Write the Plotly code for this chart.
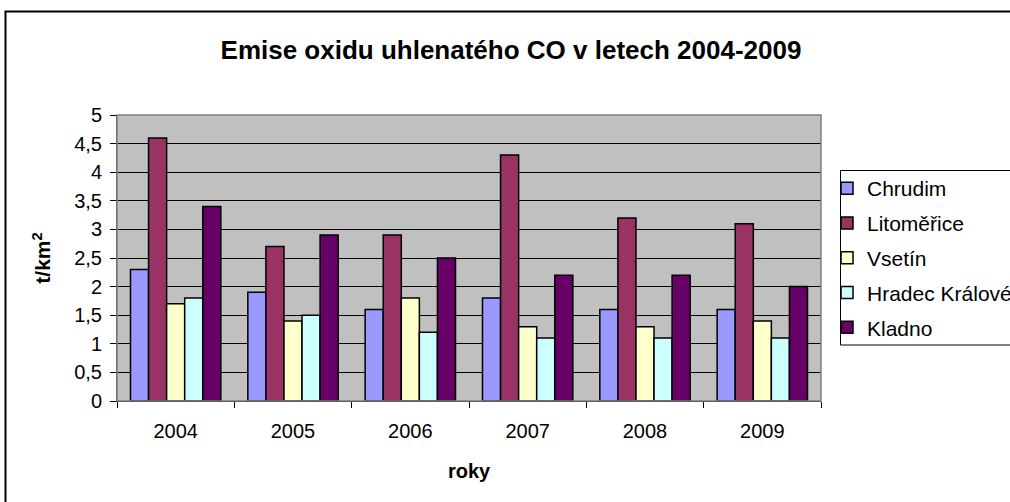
import plotly.graph_objects as go

years = ["2004", "2005", "2006", "2007", "2008", "2009"]
chrudim = [2.3, 1.9, 1.6, 1.8, 1.6, 1.6]
litomerice = [4.6, 2.7, 2.9, 4.3, 3.2, 3.1]
vsetin = [1.7, 1.4, 1.8, 1.3, 1.3, 1.4]
hradec = [1.8, 1.5, 1.2, 1.1, 1.1, 1.1]
kladno = [3.4, 2.9, 2.5, 2.2, 2.2, 2.0]

series = [
    ("Chrudim", chrudim, "#9999FF"),
    ("Litoměřice", litomerice, "#993366"),
    ("Vsetín", vsetin, "#FFFFCC"),
    ("Hradec Králové", hradec, "#CCFFFF"),
    ("Kladno", kladno, "#660066"),
]

FONT = "Liberation Sans, Arial, sans-serif"

fig = go.Figure()
for i, (name, vals, col) in enumerate(series):
    fig.add_trace(go.Bar(
        x=years, y=vals, name=name, legendgroup=f"g{i}",
        marker=dict(color=col, line=dict(color="black", width=1.5)),
    ))

W, H = 1010, 502
L, R, T, B = 117, 189, 115, 101
pw = W - L - R
ph = H - T - B

def px_x(x):
    return (x - L) / pw

def px_y(y):
    return (H - B - y) / ph

fig.update_layout(
    width=W, height=H,
    margin=dict(l=L, r=R, t=T, b=B, autoexpand=False),
    paper_bgcolor="white",
    plot_bgcolor="#C0C0C0",
    barmode="group",
    bargap=0.23,
    bargroupgap=0,
    separators=", ",
    font=dict(family=FONT, size=20, color="black"),
    title=dict(text="<b>Emise oxidu uhlenatého CO v letech 2004-2009</b>",
               x=511 / W, xref="container", xanchor="center",
               y=1 - 50 / H, yref="container", yanchor="middle",
               font=dict(family=FONT, size=26, color="black")),
    legend=dict(
        x=px_x(827), y=px_y(168), xanchor="left", yanchor="top",
        bgcolor="rgba(0,0,0,0)", borderwidth=0,
        font=dict(family=FONT, size=21, color="black"),
        traceorder="grouped", tracegroupgap=4.5,
        itemwidth=30,
    ),
    xaxis=dict(
        showgrid=False, ticks="outside", tickson="boundaries", ticklen=6,
        tickcolor="black", showline=True, linecolor="black", linewidth=1,
        tickfont=dict(family=FONT, size=20), ticklabelstandoff=12,
        title=dict(text="<b>roky</b>", font=dict(family=FONT, size=20), standoff=22),
    ),
    yaxis=dict(
        range=[0, 5], dtick=0.5, tickformat=".1~f",
        showgrid=True, gridcolor="black", gridwidth=1,
        ticks="outside", ticklen=6, tickcolor="black",
        showline=True, linecolor="#404040", linewidth=1,
        tickfont=dict(family=FONT, size=20), ticklabelstandoff=4,
        title=dict(text="<b>t/km<sup>2</sup></b>", font=dict(family=FONT, size=21), standoff=17),
        zeroline=False,
    ),
    shapes=[
        dict(type="rect", xref="paper", yref="paper", x0=0, x1=1, y0=0, y1=1,
             line=dict(color="#808080", width=1.5), fillcolor="rgba(0,0,0,0)", layer="above"),
        dict(type="rect", xref="paper", yref="paper",
             x0=px_x(5.5), x1=px_x(1030), y0=px_y(520), y1=px_y(11.5),
             line=dict(color="black", width=2), fillcolor="rgba(0,0,0,0)"),
        dict(type="rect", xref="paper", yref="paper",
             x0=px_x(840.5), x1=px_x(1030), y0=px_y(345), y1=px_y(170.5),
             line=dict(color="black", width=1), fillcolor="white", layer="below"),
    ],
)

fig.write_html("out.html", config={"displayModeBar": False},
               post_script="document.body.style.margin='0';")
